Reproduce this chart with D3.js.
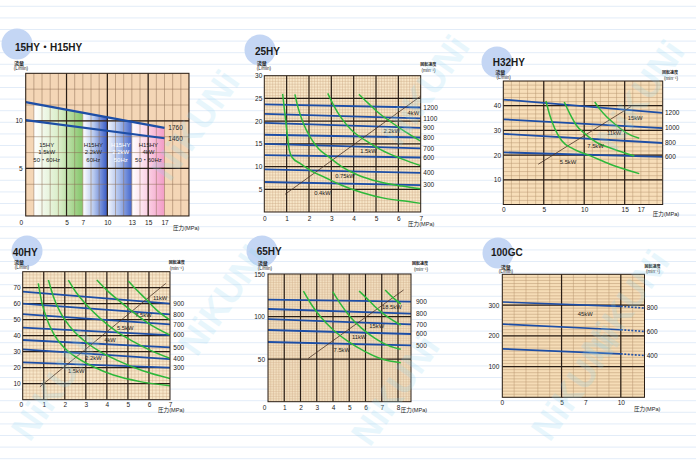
<!DOCTYPE html>
<html><head><meta charset="utf-8">
<script src="https://cdn.jsdelivr.net/npm/d3@7"></script>
<style>
body{margin:0;background:#fff}
svg{display:block}
text{font-family:Arial,"Liberation Sans","Noto Sans CJK JP",sans-serif}
</style>
</head><body>
<svg id="c" width="696" height="464"></svg>
<script>
// ================= DATA =================
// --- 15HY・H15HY ---
const p1XTicks = [0,5,7,10,13,15,17];
const p1YTicks = [5,10];
const p1Speeds = ["1760","1460"];
const p1SpeedStart = [11.97,10.07];   // L/min at 0 MPa
const p1SpeedEnd   = [9.26,8.17];     // L/min at 17 MPa
const p1SpeedEndX  = 17;
const p1BandFrom = [1,7,10,13];
const p1BandTo   = [7,10,13,17];
const p1BandText = [["15HY","1.5kW","50・60Hz"],["H15HY","2.2kW","60Hz"],["H15HY","2.2kW","50Hz"],["H15HY","4kW","50・60Hz"]];
const p1BandTextX = [2.57,8.28,11.64,15.03];
const p1BandTextY = [7.3,6.5,5.7];

// --- 25HY ---
const p2XTicks = [0,1,2,3,4,5,6,7];
const p2YTicks = [5,10,15,20,25,30];
const p2Speeds = ["1200","1100","900","800","700","600","400","300"];
const p2SpeedStart = [23.7,21.6,19.6,17.0,15.0,12.5,9.4,6.6];
const p2SpeedEnd   = [23.0,20.6,18.5,16.4,14.0,12.0,8.6,5.9];
const p2Curves = [
  [[0.82,26.0],[0.93,21.3],[1.03,16.9],[1.12,13.6],[1.25,12.0],[1.60,10.7],[2.12,9.0],[2.72,7.6],[3.46,5.9],[4.36,4.3],[5.40,3.0],[6.45,2.3],[7.0,1.9]],
  [[1.37,25.9],[1.52,22.8],[1.75,19.5],[2.04,16.6],[2.42,14.0],[2.87,12.2],[3.46,10.0],[4.21,8.1],[5.10,6.7],[6.15,5.7],[7.0,5.1]],
  [[2.84,26.1],[3.09,23.6],[3.46,20.6],[3.91,18.0],[4.51,15.8],[5.25,13.6],[6.15,11.7],[7.0,10.2]],
  [[4.24,25.9],[4.66,23.9],[5.10,21.9],[5.70,19.7],[6.30,17.7],[7.0,15.6]]
];
const p2Diagonal = [[0.93,3.9],[7.0,25.5]];
const p2Powers = ["4kW","2.2kW","1.5kW","0.75kW","0.4kW"];
const p2PowerAt = [[6.67,21.4],[5.70,17.3],[4.66,12.9],[3.61,7.5],[2.6,3.8]];

// --- H32HY ---
const p3XTicks = [0,5,10,15,17];
const p3YTicks = [10,20,30,40];
const p3Speeds = ["1200","1000","800","600"];
const p3SpeedStart = [42.5,34.5,28.6,21.1];
const p3SpeedEnd   = [37.1,30.9,24.9,19.3];
const p3Curves = [
  [[5.27,41.9],[5.76,36.0],[6.38,30.6],[7.2,25.9],[8.64,22.5],[10.7,19.8],[13.2,16.3],[16.8,12.5]],
  [[7.53,41.5],[8.23,36.7],[9.05,32.0],[10.1,28.6],[11.5,25.2],[13.6,22.5],[16.2,19.6]],
  [[11.3,41.5],[11.9,38.7],[12.8,35.4],[14.0,32.0],[15.2,29.0],[16.8,26.8]]
];
const p3Diagonal = [[4.32,16.3],[15.8,39.7]];
const p3Powers = ["15kW","11kW","7.5kW","5.5kW"];
const p3PowerAt = [[16.3,34.2],[13.7,28.1],[11.4,23.0],[8.0,16.5]];

// --- 40HY ---
const p4XTicks = [0,1,2,3,4,5,6,7];
const p4YTicks = [10,20,30,40,50,60,70];
const p4Speeds = ["900","800","700","600","500","400","300"];
const p4SpeedStart = [67.5,60.0,53.5,45.0,37.3,31.5,23.3];
const p4SpeedEnd   = [60.0,53.3,47.1,40.4,32.7,25.4,20.0];
const p4Curves = [
  [[0.74,72.7],[0.9,61.3],[1.14,50.8],[1.46,41.5],[1.93,33.1],[2.57,26.3],[3.36,20.6],[4.31,15.4],[5.58,11.3],[7.0,8.75]],
  [[1.22,74.8],[1.46,64.4],[1.77,55.0],[2.25,45.6],[2.88,37.3],[3.68,30.0],[4.63,23.8],[5.74,17.9],[7.0,13.3]],
  [[2.17,74.8],[2.57,66.5],[3.04,59.2],[3.68,50.8],[4.47,42.5],[5.26,36.3],[6.05,31.0],[7.0,25.8]],
  [[3.52,74.8],[3.99,68.5],[4.63,61.3],[5.26,54.6],[6.05,47.1],[7.0,40.4]],
  [[5.02,74.2],[5.42,68.5],[5.9,62.3],[6.37,56.0],[7.0,49.8]]
];
const p4Diagonal = [[0.82,8.1],[6.8,72.7]];
const p4Powers = ["11kW","7.5kW","5.5kW","4kW","2.2kW","1.5kW"];
const p4PowerAt = [[6.53,62.5],[5.74,51.7],[4.87,43.6],[4.15,35.9],[3.36,25.0],[2.54,16.9]];

// --- 65HY ---
const p5XTicks = [0,1,2,3,4,5,6,7,8];
const p5YTicks = [50,100,150];
const p5Speeds = ["900","800","700","600","500"];
const p5SpeedStart = [119.9,108.9,97.1,84.2,70.1];
const p5SpeedEnd   = [117.5,103.4,90.9,79.5,66.2];
const p5Curves = [
  [[2.18,130],[2.69,113.6],[3.31,97.9],[4.02,84.2],[4.95,70.5],[5.98,58.8],[7.0,50.1],[8.17,45.8]],
  [[3.98,129.3],[4.44,115.5],[5.05,99.9],[5.77,86.2],[6.59,74.4],[7.41,65.8],[8.17,61.5]],
  [[5.61,130],[6.08,121.4],[6.59,111.6],[7.21,101.8],[8.17,90.1]],
  [[7.21,131.2],[7.62,123.4],[8.17,114.8]]
];
const p5Diagonal = [[2.48,50.9],[8.34,131.2]];
const p5Powers = ["18.5kW","15kW","11kW","7.5kW"];
const p5PowerAt = [[7.62,109],[6.69,86.6],[5.61,73.7],[4.54,58.4]];

// --- 100GC ---
const p6XTicks = [0,5,7,10];
const p6YTicks = [100,200,300];
const p6Speeds = ["800","600","400"];
const p6SpeedStart = [309.8,238.0,157.6];   // at 0 MPa
const p6SpeedMid   = [295.7,219.6,141.3];   // at 10 MPa
const p6SpeedEnd   = [290.2,214.1,135.9];   // at 12 MPa (dotted)
const p6Powers = ["45kW"];
const p6PowerAt = [[7.0,265]];

// ================= LAYOUT =================
const panels = [
  {name:"15HY・H15HY", l:25.7,r:189,t:73.3,b:216, xd:[0,20], yd:[0,15],
   xMinor:1, xMajor:[5,10,15], yMinor:5/3, yMajor:[5,10],
   bg:"#f4d6b6", minorCol:"#8c6c52", minorW:0.5,
   circle:[17,44], title:[15,51], flow:[19,64.5,21,69.5], speedHdr:[175,111.5,175,118], press:[173,230], xPad:4.4, yPad:3, zeroDx:-5,
   xTicks:p1XTicks, yTicks:p1YTicks, speedLabelX:168.3, speedW:2.2},
  {name:"25HY", l:264.3,r:420.7,t:75.7,b:212, xd:[0,7], yd:[0,30],
   xMinor:0.125, xMajor:[1,2,3,4,5,6], yMinor:0.625, yMajor:[5,10,15,20,25],
   bg:"#f8e7c9", minorCol:"#c9a783", minorW:0.4,
   circle:[260,50], title:[255,55], flow:[261.7,64.5,264,69.5], speedHdr:[428.2,65.5,428.5,72], press:[408,225.5], xPad:4.4, yPad:2, zeroDx:0,
   xTicks:p2XTicks, yTicks:p2YTicks, speedLabelX:423.3, speedW:1.8},
  {name:"H32HY", l:503.3,r:662.7,t:81,b:204.5, xd:[0,19.7], yd:[0,50],
   xMinor:1, xMajor:[5,10,15], yMinor:10/6, yMajor:[10,20,30,40],
   bg:"#f7deb9", minorCol:"#b89670", minorW:0.5,
   circle:[497,62], title:[492.7,66], flow:[500.3,73.5,503.7,79], speedHdr:[670,73.5,671,80], press:[652.7,215.5], xPad:3, yPad:2.3, zeroDx:0,
   xTicks:p3XTicks, yTicks:p3YTicks, speedLabelX:665, speedW:1.8},
  {name:"40HY", l:22.7,r:170,t:271.7,b:399.7, xd:[0,7], yd:[0,80],
   xMinor:1/6, xMajor:[1,2,3,4,5,6], yMinor:2, yMajor:[10,20,30,40,50,60,70],
   bg:"#f8e7c9", minorCol:"#c9a783", minorW:0.4,
   circle:[27,251], title:[12.7,256], flow:[19,264,22,269], speedHdr:[176.7,263.5,176.7,270], press:[158,411.5], xPad:2.7, yPad:2, zeroDx:-2,
   xTicks:p4XTicks, yTicks:p4YTicks, speedLabelX:173.3, speedW:1.8},
  {name:"65HY", l:268,r:411,t:274,b:401.7, xd:[0,8.8], yd:[0,150],
   xMinor:1/6, xMajor:[1,2,3,4,5,6,7,8], yMinor:2, yMajor:[50,100],
   bg:"#f8e7c9", minorCol:"#cfae8a", minorW:0.45,
   circle:[262,251], title:[256.7,254.5], flow:[262.7,264.5,265,270], speedHdr:[420,264.5,421,271], press:[400.7,412], xPad:3.2, yPad:3, zeroDx:-4,
   xTicks:p5XTicks, yTicks:p5YTicks, speedLabelX:416, speedW:1.8},
  {name:"100GC", l:502.3,r:644.5,t:274.3,b:397.3, xd:[0,12], yd:[0,400],
   xMinor:1, xMajor:[5,10], yMinor:10, yMajor:[100,200,300],
   bg:"#f6ddb7", minorCol:"#b89670", minorW:0.5,
   circle:[498,253], title:[491,256], flow:[505.8,268.5,506,272.5], speedHdr:[652.5,268,653,273], press:[634,410.5], xPad:2.6, yPad:3, zeroDx:-0.6,
   xTicks:p6XTicks, yTicks:p6YTicks, speedLabelX:646.7, speedW:1.6}
];

// ================= DRAW =================
const svg = d3.select("#c");
const defs = svg.append("defs");

// notebook background lines
svg.append("g").selectAll("line").data(d3.range(6.3, 464, 11.6)).join("line")
  .attr("x1",0).attr("x2",696).attr("y1",d=>d).attr("y2",d=>d)
  .attr("stroke","#dbe7f6").attr("stroke-width",0.8);

const CJK = "'Noto Sans CJK JP','Noto Sans CJK SC',sans-serif";
const LINE_BLUE = "#1d4ea6";
const GREEN = "#2db83a";

function makeGrad(id, stops){
  const g = defs.append("linearGradient").attr("id",id).attr("x1","0").attr("x2","1").attr("y1","0").attr("y2","0");
  stops.forEach(s=>g.append("stop").attr("offset",s[0]).attr("stop-color",s[1]));
}
makeGrad("gGreen",[[0,"#ffffff"],[0.55,"#d6ecc4"],[1,"#84c56a"]]);
makeGrad("gBlue1",[[0,"#ffffff"],[0.45,"#b6c8ee"],[1,"#3558c4"]]);
makeGrad("gBlue2",[[0,"#f2f5fc"],[0.5,"#a6bbea"],[1,"#4466cc"]]);
makeGrad("gPink",[[0,"#ffffff"],[0.5,"#fbd0e4"],[1,"#f29cc6"]]);
const bandFills = ["url(#gGreen)","url(#gBlue1)","url(#gBlue2)","url(#gPink)"];
const bandTextCol = ["#222","#222","#fff","#222"];

function drawPanel(P, idx, extra){
  const x = d3.scaleLinear().domain(P.xd).range([P.l,P.r]);
  const y = d3.scaleLinear().domain(P.yd).range([P.b,P.t]);
  const g = svg.append("g");
  const clipId = "clip"+idx;
  defs.append("clipPath").attr("id",clipId).append("rect")
    .attr("x",P.l).attr("y",P.t).attr("width",P.r-P.l).attr("height",P.b-P.t);

  // header
  g.append("circle").attr("cx",P.circle[0]).attr("cy",P.circle[1]).attr("r",15.5).attr("fill","#c4d6f4");
  g.append("text").attr("x",P.title[0]).attr("y",P.title[1]).text(P.name)
    .attr("font-size",10).attr("font-weight","bold").attr("fill","#1a1a1a");
  g.append("text").attr("x",P.flow[0]).attr("y",P.flow[1]).text("流量")
    .attr("font-size",5).attr("text-anchor","middle").attr("font-family",CJK).attr("font-weight","bold").attr("fill","#222");
  g.append("text").attr("x",P.flow[2]).attr("y",P.flow[3]).text("(L/min)")
    .attr("font-size",4.6).attr("text-anchor","middle").attr("fill","#222");
  g.append("text").attr("x",P.speedHdr[0]).attr("y",P.speedHdr[1]).text("回転速度")
    .attr("font-size",4).attr("text-anchor","middle").attr("font-family",CJK).attr("font-weight","bold").attr("fill","#222");
  g.append("text").attr("x",P.speedHdr[2]).attr("y",P.speedHdr[3]).text("(min⁻¹)")
    .attr("font-size",4.6).attr("text-anchor","middle").attr("fill","#222");
  g.append("text").attr("x",P.press[0]).attr("y",P.press[1]).text("圧力(MPa)")
    .attr("font-size",5.6).attr("font-family",CJK).attr("fill","#222");

  // plot background
  g.append("rect").attr("x",P.l).attr("y",P.t).attr("width",P.r-P.l).attr("height",P.b-P.t).attr("fill",P.bg);

  const inner = g.append("g").attr("clip-path",`url(#${clipId})`);
  if (extra && extra.bands) extra.bands(inner, x, y);

  // minor grid
  const eps = 1e-6;
  const xm = d3.range(P.xd[0], P.xd[1]+eps, P.xMinor);
  const ym = d3.range(P.yd[0], P.yd[1]+eps, P.yMinor);
  inner.append("g").selectAll("line").data(xm).join("line")
    .attr("x1",d=>x(d)).attr("x2",d=>x(d)).attr("y1",P.t).attr("y2",P.b)
    .attr("stroke",P.minorCol).attr("stroke-width",P.minorW);
  inner.append("g").selectAll("line").data(ym).join("line")
    .attr("y1",d=>y(d)).attr("y2",d=>y(d)).attr("x1",P.l).attr("x2",P.r)
    .attr("stroke",P.minorCol).attr("stroke-width",P.minorW);
  // major grid
  inner.append("g").selectAll("line").data(P.xMajor).join("line")
    .attr("x1",d=>x(d)).attr("x2",d=>x(d)).attr("y1",P.t).attr("y2",P.b)
    .attr("stroke","#2a1e16").attr("stroke-width",1.2);
  inner.append("g").selectAll("line").data(P.yMajor).join("line")
    .attr("y1",d=>y(d)).attr("y2",d=>y(d)).attr("x1",P.l).attr("x2",P.r)
    .attr("stroke","#2a1e16").attr("stroke-width",1.2);

  if (extra && extra.marks) extra.marks(inner, x, y, g);

  // border
  g.append("rect").attr("x",P.l).attr("y",P.t).attr("width",P.r-P.l).attr("height",P.b-P.t)
    .attr("fill","none").attr("stroke","#2a1e16").attr("stroke-width",1);

  // axes
  const ax = g.append("g").attr("transform",`translate(0,${P.b})`)
    .call(d3.axisBottom(x).tickValues(P.xTicks).tickSize(0).tickPadding(P.xPad).tickFormat(d3.format("d")));
  const ay = g.append("g").attr("transform",`translate(${P.l},0)`)
    .call(d3.axisLeft(y).tickValues(P.yTicks).tickSize(0).tickPadding(P.yPad).tickFormat(d3.format("d")));
  [ax,ay].forEach(a=>{
    a.select(".domain").remove();
    a.selectAll("text").attr("font-size",6.5).attr("fill","#222").attr("font-family","Arial,'Liberation Sans',sans-serif");
  });
  ax.selectAll(".tick").filter(d=>d===0).select("text").attr("dx",P.zeroDx);
  return {x,y,g};
}

function speedLines(sel, x, y, starts, ends, x0, x1, w){
  sel.append("g").selectAll("line").data(starts).join("line")
    .attr("x1",x(x0)).attr("x2",x(x1))
    .attr("y1",d=>y(d)).attr("y2",(d,i)=>y(ends[i]))
    .attr("stroke",LINE_BLUE).attr("stroke-width",w);
}
function speedLabels(g, P, y, names, ends){
  g.append("g").selectAll("text").data(names).join("text")
    .attr("x",P.speedLabelX).attr("y",(d,i)=>y(ends[i])).attr("dy","0.35em")
    .text(d=>d).attr("font-size",6.5).attr("fill","#222");
}
function greenCurves(sel, x, y, curves){
  const line = d3.line().x(d=>x(d[0])).y(d=>y(d[1])).curve(d3.curveMonotoneX);
  sel.append("g").selectAll("path").data(curves).join("path")
    .attr("d",line).attr("fill","none").attr("stroke",GREEN).attr("stroke-width",1.5);
}
function diagonal(sel, x, y, pts){
  sel.append("line").attr("x1",x(pts[0][0])).attr("y1",y(pts[0][1]))
    .attr("x2",x(pts[1][0])).attr("y2",y(pts[1][1]))
    .attr("stroke","#4a3326").attr("stroke-width",0.8);
}
function powerLabels(sel, x, y, names, at){
  sel.append("g").selectAll("text").data(names).join("text")
    .attr("x",(d,i)=>x(at[i][0])).attr("y",(d,i)=>y(at[i][1]))
    .attr("text-anchor","middle").text(d=>d).attr("font-size",5.8).attr("fill","#222");
}

// Panel 1
drawPanel(panels[0],0,{
  bands:(sel,x,y)=>{
    const top = xv => p1SpeedStart[0] + (p1SpeedEnd[0]-p1SpeedStart[0])*xv/p1SpeedEndX;
    p1BandFrom.forEach((f,i)=>{
      const t = p1BandTo[i];
      const pts = [[f,0],[t,0],[t,top(t)],[f,top(f)]];
      sel.append("path").attr("d",d3.line().x(d=>x(d[0])).y(d=>y(d[1]))(pts)+"Z").attr("fill",bandFills[i]);
    });
  },
  marks:(sel,x,y,g)=>{
    const P = panels[0];
    speedLines(sel,x,y,p1SpeedStart,p1SpeedEnd,0,p1SpeedEndX,P.speedW);
    p1BandText.forEach((lines,i)=>{
      sel.append("g").selectAll("text").data(lines).join("text")
        .attr("x",x(p1BandTextX[i])).attr("y",(d,j)=>y(p1BandTextY[j]))
        .attr("text-anchor","middle").text(d=>d).attr("font-size",6)
        .attr("font-family","Arial,'Noto Sans CJK JP',sans-serif").attr("fill",bandTextCol[i]);
    });
    speedLabels(sel,P,y,p1Speeds,p1SpeedEnd);
  }
});

// Panel 2
drawPanel(panels[1],1,{
  marks:(sel,x,y,g)=>{
    const P = panels[1];
    speedLines(sel,x,y,p2SpeedStart,p2SpeedEnd,0,7,P.speedW);
    diagonal(sel,x,y,p2Diagonal);
    greenCurves(sel,x,y,p2Curves);
    powerLabels(sel,x,y,p2Powers,p2PowerAt);
    speedLabels(g,P,y,p2Speeds,p2SpeedEnd);
  }
});

// Panel 3
drawPanel(panels[2],2,{
  marks:(sel,x,y,g)=>{
    const P = panels[2];
    speedLines(sel,x,y,p3SpeedStart,p3SpeedEnd,0,19.7,P.speedW);
    diagonal(sel,x,y,p3Diagonal);
    greenCurves(sel,x,y,p3Curves);
    powerLabels(sel,x,y,p3Powers,p3PowerAt);
    speedLabels(g,P,y,p3Speeds,p3SpeedEnd);
  }
});

// Panel 4
drawPanel(panels[3],3,{
  marks:(sel,x,y,g)=>{
    const P = panels[3];
    speedLines(sel,x,y,p4SpeedStart,p4SpeedEnd,0,7,P.speedW);
    diagonal(sel,x,y,p4Diagonal);
    greenCurves(sel,x,y,p4Curves);
    powerLabels(sel,x,y,p4Powers,p4PowerAt);
    speedLabels(g,P,y,p4Speeds,p4SpeedEnd);
  }
});

// Panel 5
drawPanel(panels[4],4,{
  marks:(sel,x,y,g)=>{
    const P = panels[4];
    speedLines(sel,x,y,p5SpeedStart,p5SpeedEnd,0,8.8,P.speedW);
    diagonal(sel,x,y,p5Diagonal);
    greenCurves(sel,x,y,p5Curves);
    powerLabels(sel,x,y,p5Powers,p5PowerAt);
    speedLabels(g,P,y,p5Speeds,p5SpeedEnd);
  }
});

// Panel 6
drawPanel(panels[5],5,{
  marks:(sel,x,y,g)=>{
    const P = panels[5];
    speedLines(sel,x,y,p6SpeedStart,p6SpeedMid,0,10,P.speedW);
    sel.append("g").selectAll("line").data(p6SpeedMid).join("line")
      .attr("x1",x(10)).attr("x2",x(12))
      .attr("y1",d=>y(d)).attr("y2",(d,i)=>y(p6SpeedEnd[i]))
      .attr("stroke",LINE_BLUE).attr("stroke-width",P.speedW).attr("stroke-dasharray","2,1.5");
    powerLabels(sel,x,y,p6Powers,p6PowerAt);
    speedLabels(g,P,y,p6Speeds,p6SpeedEnd);
  }
});

// watermark
const wm = [[195,125],[425,90],[640,95],[222,300],[625,305],[55,385],[395,390],[575,385]];
svg.append("g").selectAll("text").data(wm).join("text")
  .attr("transform",d=>`translate(${d[0]},${d[1]}) rotate(-55)`)
  .attr("text-anchor","middle").attr("dy","0.35em")
  .text("NiKUNi").attr("font-size",36).attr("font-weight","bold")
  .attr("fill","#8fd6f3").attr("opacity",0.2);
</script>
</body></html>
